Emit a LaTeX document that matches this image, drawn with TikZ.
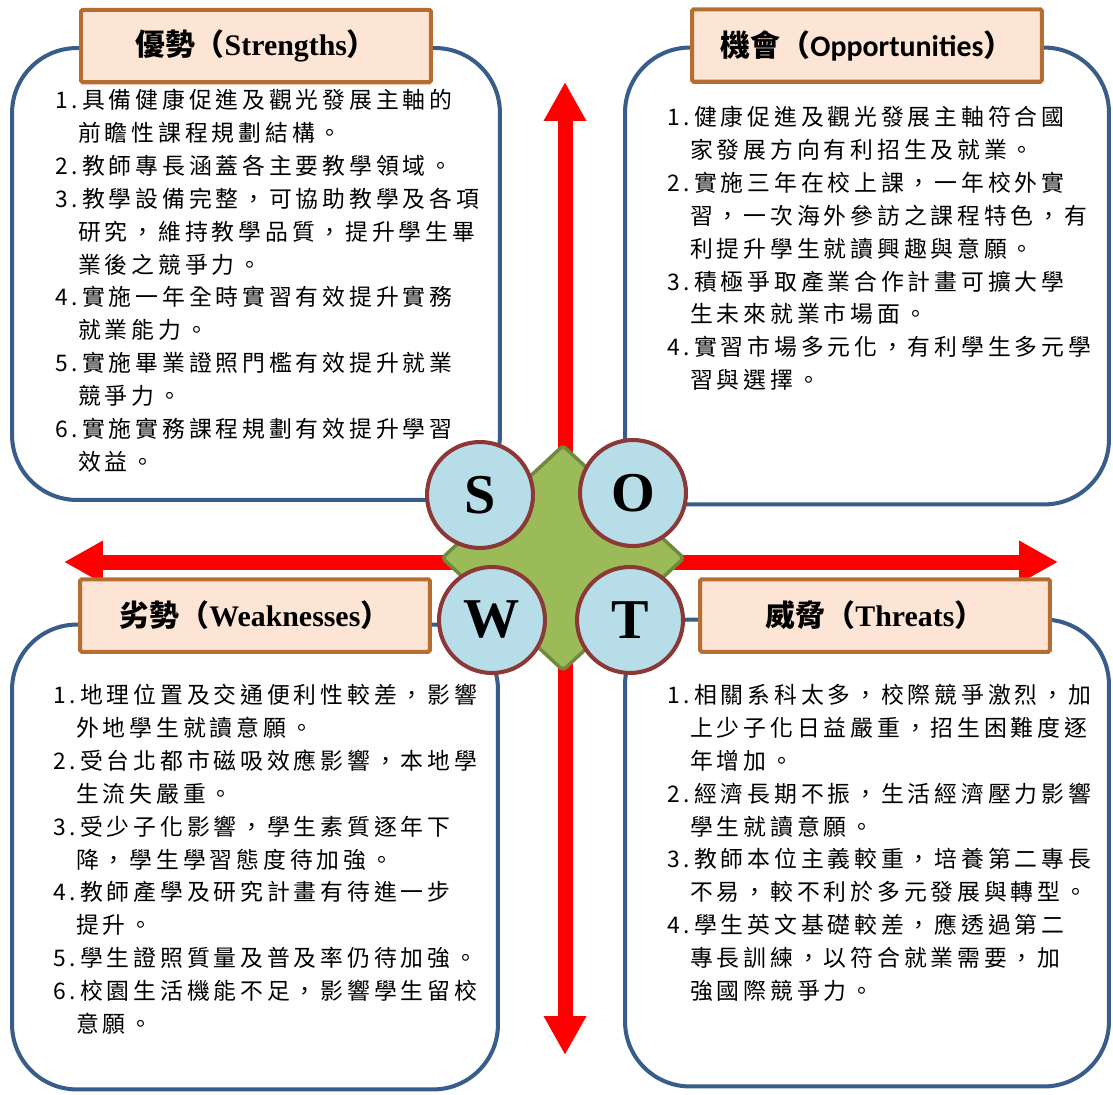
\documentclass[tikz,border=0pt]{standalone}
\usepackage{fontspec}
\setmainfont{Liberation Serif}
\newfontfamily\cjk[LetterSpace=17]{Noto Sans CJK TC}
\newfontfamily\cjkbf{Noto Sans CJK TC Bold}
\newfontfamily\calib{Carlito}
\usetikzlibrary{
    shapes.geometric, arrows.meta, positioning
}
\definecolor{boxblue}{RGB}{56,93,138}
\definecolor{hdrline}{RGB}{182,109,49}
\definecolor{hdrfill}{RGB}{252,229,213}
\definecolor{ballfill}{RGB}{183,222,232}
\definecolor{ballline}{RGB}{140,56,54}
\definecolor{leaf}{RGB}{155,187,89}
\definecolor{leafline}{RGB}{113,137,63}
\tikzset{
  quad/.style={rectangle, draw=boxblue, line width=2.3pt, fill=white,
               rounded corners=1.3cm},
  hdr/.style={rectangle, draw=hdrline, fill=hdrfill, line width=2.3pt,
              rounded corners=1pt, minimum width=7cm, minimum height=1.45cm,
              font=\fontsize{17}{20}\selectfont\bfseries},
  items/.style={anchor=north west, inner sep=0pt, align=left,
                font=\cjk\fontsize{13}{18.7}\selectfont},
  ball/.style={circle, draw=ballline, fill=ballfill, line width=2.3pt,
               minimum size=2.12cm, inner sep=0pt,
               font=\fontsize{32}{36}\selectfont\bfseries},
  core/.style={diamond, draw=leafline, fill=leaf, line width=2pt,
               minimum width=4.86cm, minimum height=4.52cm, inner sep=0pt,
               rounded corners=2pt},
  dblarr/.style={{Triangle[length=0.78cm, width=0.8cm]}-{Triangle[length=0.78cm, width=0.8cm]},
                 line width=0.3cm, red},
}
\newcommand{\hang}{\phantom{1.}}

\begin{document}
\begin{tikzpicture}[x=0.02cm, y=-0.02cm]
  \useasboundingbox (0,0) rectangle (1113,1095);

  \coordinate (top) at (565,82);
  \coordinate (bot) at (565,1055);
  \coordinate (lft) at (64,562);
  \coordinate (rgt) at (1058,562);
  \draw[dblarr] (top) -- (bot);
  \draw[dblarr] (lft) -- (rgt);

  \node[quad, minimum width=9.76cm, minimum height=9.04cm] (sbox) at (256,274) {};
  \node[quad, minimum width=9.68cm, minimum height=9.14cm] (obox) at (867,276) {};
  \node[quad, minimum width=9.72cm, minimum height=9.3cm]  (wbox) at (255,857) {};
  \node[quad, minimum width=9.68cm, minimum height=9.34cm] (tbox) at (867,853) {};

  \node[hdr] (shdr) at (sbox.north) {{\cjkbf 優勢（}Strengths{\cjkbf ）}};
  \node[hdr] (ohdr) at (obox.north) {{\cjkbf 機會（}{\calib\bfseries Opportunities}{\cjkbf ）}};
  \node[hdr] (whdr) at ([yshift=0.14cm]wbox.north) {{\cjkbf 劣勢（}Weaknesses{\cjkbf ）}};
  \node[hdr] (thdr) at ([xshift=0.16cm, yshift=0.04cm]tbox.north) {{\cjkbf 威脅（}Threats{\cjkbf ）}};

  \node[items] (stext) at (55,89) {1.具備健康促進及觀光發展主軸的\\
    \hang 前瞻性課程規劃結構。\\
    2.教師專長涵蓋各主要教學領域。\\
    3.教學設備完整，可協助教學及各項\\
    \hang 研究，維持教學品質，提升學生畢\\
    \hang 業後之競爭力。\\
    4.實施一年全時實習有效提升實務\\
    \hang 就業能力。\\
    5.實施畢業證照門檻有效提升就業\\
    \hang 競爭力。\\
    6.實施實務課程規劃有效提升學習\\
    \hang 效益。};
  \node[items] (otext) at (667,106) {1.健康促進及觀光發展主軸符合國\\
    \hang 家發展方向有利招生及就業。\\
    2.實施三年在校上課，一年校外實\\
    \hang 習，一次海外參訪之課程特色，有\\
    \hang 利提升學生就讀興趣與意願。\\
    3.積極爭取產業合作計畫可擴大學\\
    \hang 生未來就業市場面。\\
    4.實習市場多元化，有利學生多元學\\
    \hang 習與選擇。};
  \node[items] (wtext) at (53,684) {1.地理位置及交通便利性較差，影響\\
    \hang 外地學生就讀意願。\\
    2.受台北都市磁吸效應影響，本地學\\
    \hang 生流失嚴重。\\
    3.受少子化影響，學生素質逐年下\\
    \hang 降，學生學習態度待加強。\\
    4.教師產學及研究計畫有待進一步\\
    \hang 提升。\\
    5.學生證照質量及普及率仍待加強。\\
    6.校園生活機能不足，影響學生留校\\
    \hang 意願。};
  \node[items] (ttext) at (667,684) {1.相關系科太多，校際競爭激烈，加\\
    \hang 上少子化日益嚴重，招生困難度逐\\
    \hang 年增加。\\
    2.經濟長期不振，生活經濟壓力影響\\
    \hang 學生就讀意願。\\
    3.教師本位主義較重，培養第二專長\\
    \hang 不易，較不利於多元發展與轉型。\\
    4.學生英文基礎較差，應透過第二\\
    \hang 專長訓練，以符合就業需要，加\\
    \hang 強國際競爭力。};

  \node[core] (hub) at (563,558) {};
  \node[ball] (s) at (480,495) {S};
  \node[ball] (o) at (633,493) {O};
  \node[ball] (w) at (492,620) {W};
  \node[ball] (t) at (630,620) {T};
\end{tikzpicture}
\end{document}
